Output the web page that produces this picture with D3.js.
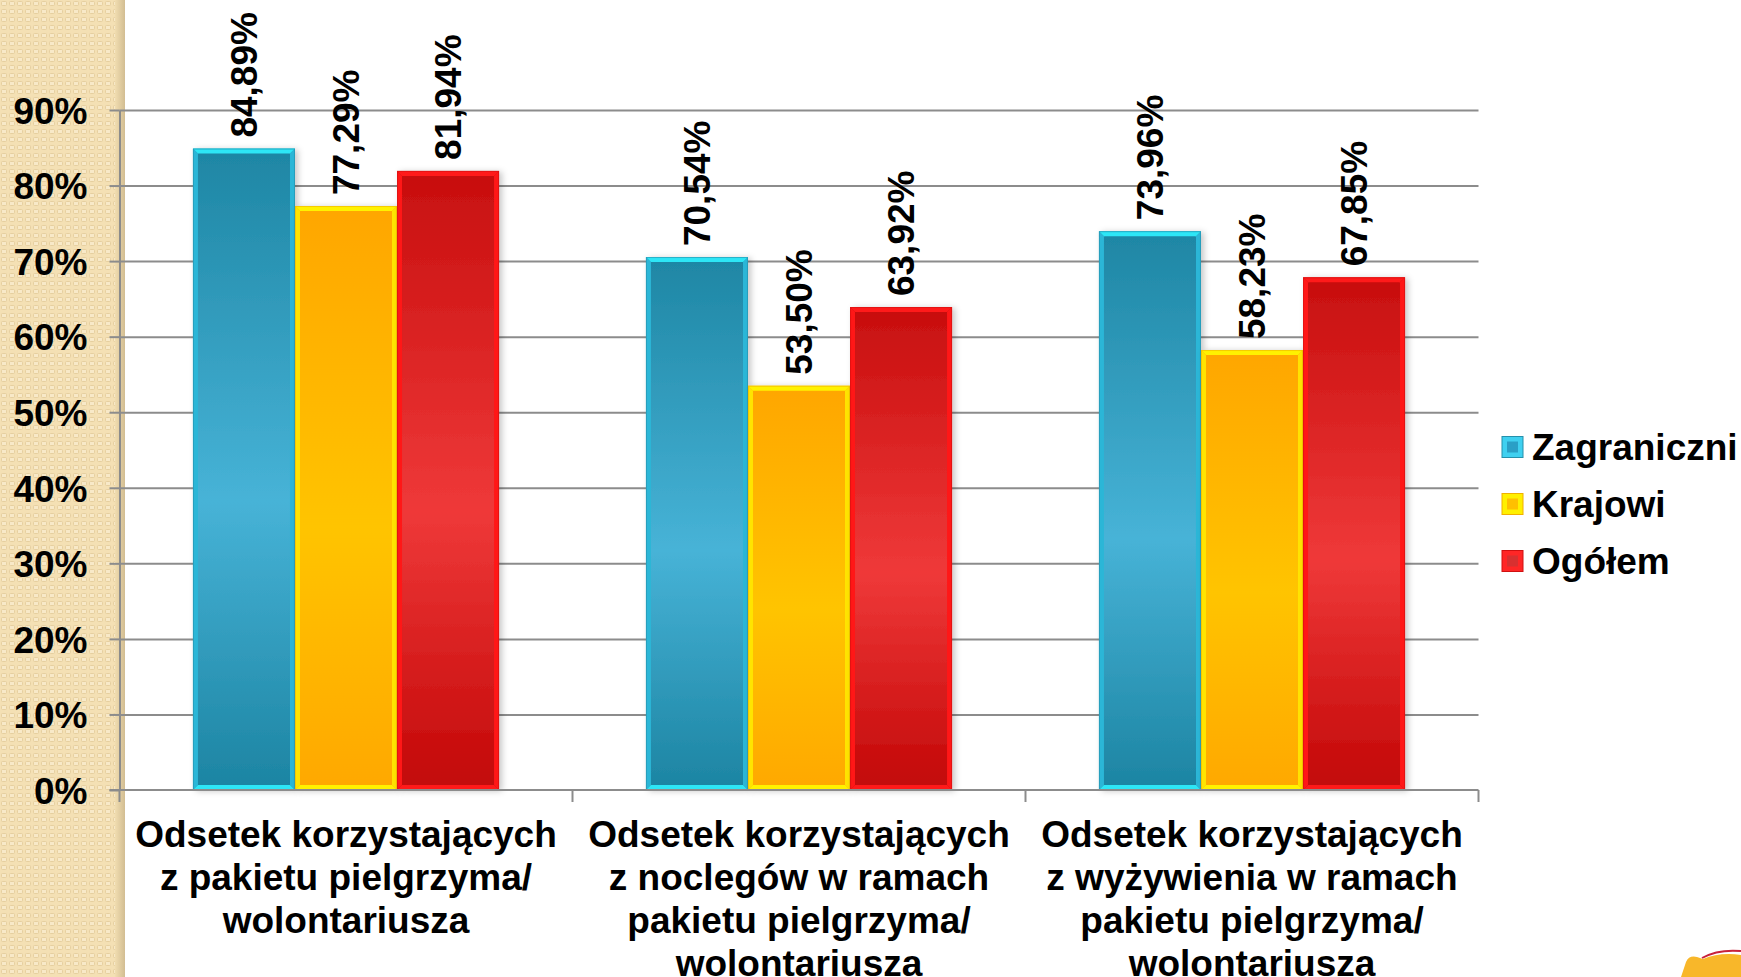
<!DOCTYPE html>
<html lang="pl">
<head>
    <meta charset="UTF-8">
    <title>Odsetek korzystających</title>
    <script src="https://d3js.org/d3.v7.min.js"></script>
    <style>
        html, body {
            margin: 0;
            padding: 0;
            background: #fff;
            overflow: hidden;
        }

        text {
            font-family: "Liberation Sans", Arial, sans-serif;
            font-weight: bold;
            fill: #000;
        }

        .grid line, .axis line, .axis path {
            stroke: #8c8c8c;
            stroke-width: 2px;
        }
    </style>
</head>
<body>
    <script>
        // dane
        const categories = [
            "Odsetek korzystających z pakietu pielgrzyma/ wolontariusza",
            "Odsetek korzystających z noclegów w ramach pakietu pielgrzyma/ wolontariusza",
            "Odsetek korzystających z wyżywienia w ramach pakietu pielgrzyma/ wolontariusza"
        ];
        const categoryLines = [
            ["Odsetek korzystających", "z pakietu pielgrzyma/", "wolontariusza"],
            ["Odsetek korzystających", "z noclegów w ramach", "pakietu pielgrzyma/", "wolontariusza"],
            ["Odsetek korzystających", "z wyżywienia w ramach", "pakietu pielgrzyma/", "wolontariusza"]
        ];
        const seriesNames = ["Zagraniczni", "Krajowi", "Ogółem"];
        const zagraniczni = [84.89, 70.54, 73.96];
        const krajowi = [77.29, 53.50, 58.23];
        const ogolem = [81.94, 63.92, 67.85];
        const yTicks = [0, 10, 20, 30, 40, 50, 60, 70, 80, 90];

        const seriesValues = [zagraniczni, krajowi, ogolem];

        const W = 1741, H = 977;
        const plot = { left: 119.5, right: 1478.5, top: 110, bottom: 790 };

        // kolory serii: korpus (gora, srodek, dol), fazka gora/dol, boki, obrys
        const looks = [
            { top: "#1e86a4", mid: "#47b3d7", bot: "#1c84a2", bevel: "#2de6f6", side: "#2bb6d7", edge: "#2590ab", sw1: "#3fd0f0", sw2: "#2a9fc6" },
            { top: "#ffa600", mid: "#ffc400", bot: "#ffa800", bevel: "#fff200", side: "#ffe400", edge: "#f0b000", sw1: "#fff000", sw2: "#ffc000" },
            { top: "#c70e0e", mid: "#ef3939", bot: "#c20707", bevel: "#ff1a1a", side: "#ff1717", edge: "#d01010", sw1: "#ff2626", sw2: "#d83030" }
        ];

        const svg = d3.select("body").append("svg")
            .attr("width", W)
            .attr("height", H);

        const defs = svg.append("defs");

        // wzor paska bocznego
        const pat = defs.append("pattern")
            .attr("id", "tex")
            .attr("patternUnits", "userSpaceOnUse")
            .attr("width", 8)
            .attr("height", 8);
        pat.append("rect").attr("width", 8).attr("height", 8).attr("fill", "#f4e0b4");
        pat.append("rect")
            .attr("x", 1.5).attr("y", 1.5).attr("width", 5).attr("height", 4)
            .attr("rx", 1)
            .attr("fill", "#f8e9c8")
            .attr("stroke", "#e6cf9f")
            .attr("stroke-width", 1);

        const edgeGrad = defs.append("linearGradient").attr("id", "edge")
            .attr("x1", 0).attr("x2", 1).attr("y1", 0).attr("y2", 0);
        edgeGrad.append("stop").attr("offset", "0%").attr("stop-color", "#f1ddb0");
        edgeGrad.append("stop").attr("offset", "100%").attr("stop-color", "#d2bd92");

        looks.forEach((c, i) => {
            const g = defs.append("linearGradient").attr("id", "bar" + i)
                .attr("x1", 0).attr("x2", 0).attr("y1", 0).attr("y2", 1);
            g.append("stop").attr("offset", "0%").attr("stop-color", c.top);
            g.append("stop").attr("offset", "55%").attr("stop-color", c.mid);
            g.append("stop").attr("offset", "100%").attr("stop-color", c.bot);
        });

        const shadow = defs.append("filter").attr("id", "shadow")
            .attr("x", "-20%").attr("y", "-5%").attr("width", "140%").attr("height", "110%");
        shadow.append("feDropShadow")
            .attr("dx", 3).attr("dy", 1)
            .attr("stdDeviation", 3)
            .attr("flood-color", "#000")
            .attr("flood-opacity", 0.22);

        // pasek boczny
        svg.append("rect")
            .attr("x", 0).attr("y", 0)
            .attr("width", 125).attr("height", H)
            .attr("fill", "url(#tex)");
        svg.append("rect")
            .attr("x", 115).attr("y", 0)
            .attr("width", 10).attr("height", H)
            .attr("fill", "url(#edge)");

        // skale
        const y = d3.scaleLinear()
            .domain([0, 90])
            .range([plot.bottom, plot.top]);

        const x0 = d3.scaleBand()
            .domain(categories)
            .range([plot.left, plot.right])
            .padding(0);

        const x1 = d3.scaleBand()
            .domain(seriesNames)
            .range([0, x0.bandwidth()])
            .paddingInner(0)
            .paddingOuter(0.72);

        // siatka
        svg.append("g")
            .attr("class", "grid")
            .attr("transform", `translate(${plot.left},0)`)
            .call(d3.axisLeft(y).tickValues(yTicks.slice(1)).tickSize(-(plot.right - plot.left)).tickFormat(""))
            .call(g => g.select(".domain").remove());

        // os Y
        const yAxis = svg.append("g")
            .attr("class", "axis")
            .attr("transform", `translate(${plot.left},0)`)
            .call(d3.axisLeft(y).tickValues(yTicks).tickSize(10).tickSizeOuter(0).tickPadding(22).tickFormat(d => d + "%"));
        yAxis.selectAll("text")
            .style("font-size", "37px")
            .attr("dy", "0.36em");

        // slupki
        const bevel = 5;
        const groups = svg.append("g")
            .selectAll("g")
            .data(categories)
            .join("g")
            .attr("transform", d => `translate(${x0(d)},0)`);

        const bars = groups.selectAll("g.bar")
            .data((d, ci) => seriesNames.map((s, si) => ({ s, si, v: seriesValues[si][ci] })))
            .join("g")
            .attr("class", "bar");

        bars.each(function (d) {
            const g = d3.select(this);
            const c = looks[d.si];
            const bx = x1(d.s), bw = x1.bandwidth();
            const by = y(d.v), bh = y(0) - y(d.v);
            const b = bevel;

            g.append("rect")
                .attr("x", bx).attr("y", by).attr("width", bw).attr("height", bh)
                .attr("fill", `url(#bar${d.si})`)
                .attr("filter", "url(#shadow)");

            const poly = pts => g.append("polygon").attr("points", pts.map(p => p.join(",")).join(" "));

            poly([[bx, by], [bx + b, by + b], [bx + b, by + bh - b], [bx, by + bh]]).attr("fill", c.side);
            poly([[bx + bw, by], [bx + bw - b, by + b], [bx + bw - b, by + bh - b], [bx + bw, by + bh]]).attr("fill", c.side);
            poly([[bx, by], [bx + bw, by], [bx + bw - b, by + b], [bx + b, by + b]]).attr("fill", c.bevel);
            poly([[bx, by + bh], [bx + bw, by + bh], [bx + bw - b, by + bh - b], [bx + b, by + bh - b]]).attr("fill", c.bevel);

            g.append("rect")
                .attr("x", bx + 0.5).attr("y", by + 0.5).attr("width", bw - 1).attr("height", bh - 1)
                .attr("fill", "none")
                .attr("stroke", c.edge)
                .attr("stroke-opacity", 0.6)
                .attr("stroke-width", 1);

            g.append("text")
                .attr("transform", `translate(${bx + bw / 2},${by - 11}) rotate(-90)`)
                .attr("dy", "0.36em")
                .style("font-size", "37px")
                .text(d3.format(".2f")(d.v).replace(".", ",") + "%");
        });

        // os X
        svg.append("line")
            .attr("class", "axisline")
            .attr("x1", plot.left - 10).attr("x2", plot.right)
            .attr("y1", y(0)).attr("y2", y(0))
            .attr("stroke", "#8c8c8c").attr("stroke-width", 2);

        const bounds = categories.map(c => x0(c)).concat([plot.right]);
        svg.append("g")
            .selectAll("line")
            .data(bounds)
            .join("line")
            .attr("x1", d => d).attr("x2", d => d)
            .attr("y1", y(0)).attr("y2", y(0) + 12)
            .attr("stroke", "#8c8c8c").attr("stroke-width", 2);

        // etykiety kategorii
        const xl = svg.append("g")
            .selectAll("text")
            .data(categories)
            .join("text")
            .attr("x", d => x0(d) + x0.bandwidth() / 2)
            .attr("y", 847)
            .attr("text-anchor", "middle")
            .style("font-size", "37px");

        xl.selectAll("tspan")
            .data((d, i) => categoryLines[i])
            .join("tspan")
            .attr("x", function () { return this.parentNode.getAttribute("x"); })
            .attr("dy", (d, i) => i === 0 ? 0 : 43)
            .text(d => d);

        // legenda
        const legend = svg.append("g")
            .attr("transform", "translate(1502,447)")
            .selectAll("g")
            .data(seriesNames)
            .join("g")
            .attr("transform", (d, i) => `translate(0,${i * 57})`);

        legend.append("rect")
            .attr("x", 0).attr("y", -10.5)
            .attr("width", 21).attr("height", 21)
            .attr("fill", (d, i) => looks[i].sw1)
            .attr("stroke", (d, i) => looks[i].edge)
            .attr("stroke-width", 1);

        legend.append("rect")
            .attr("x", 5).attr("y", -5.5)
            .attr("width", 11).attr("height", 11)
            .attr("fill", (d, i) => looks[i].sw2);

        legend.append("text")
            .attr("x", 30)
            .attr("dy", "0.36em")
            .style("font-size", "37px")
            .text(d => d);

        // ozdoba w rogu
        svg.append("path")
            .attr("d", "M1681,977 L1686,962 Q1689,955 1697,957 L1703,959 Q1720,952 1741,955 L1741,977 Z")
            .attr("fill", "#f8b72a");
        svg.append("path")
            .attr("d", "M1702,958 Q1718,949 1741,951")
            .attr("fill", "none")
            .attr("stroke", "#c8213b")
            .attr("stroke-width", 2);
    </script>
</body>
</html>
